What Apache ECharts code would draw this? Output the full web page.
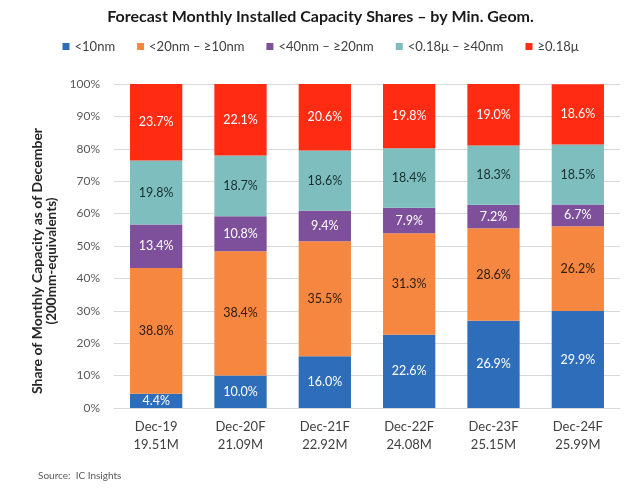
<!DOCTYPE html>
<html><head><meta charset="utf-8">
<script src="https://cdn.jsdelivr.net/npm/echarts@6/dist/echarts.min.js"></script>
<style>html,body{margin:0;padding:0;background:#fff}#c{width:641px;height:490px}</style>
</head><body><div id="c"></div>
<script>
const categories = ['Dec-19\n19.51M','Dec-20F\n21.09M','Dec-21F\n22.92M','Dec-22F\n24.08M','Dec-23F\n25.15M','Dec-24F\n25.99M'];
const seriesNames = ['<10nm','<20nm – ≥10nm','<40nm – ≥20nm','<0.18μ – ≥40nm','≥0.18μ'];
const lt10 = [4.4,10.0,16.0,22.6,26.9,29.9];
const nm10to20 = [38.8,38.4,35.5,31.3,28.6,26.2];
const nm20to40 = [13.4,10.8,9.4,7.9,7.2,6.7];
const nm40to180 = [19.8,18.7,18.6,18.4,18.3,18.5];
const ge180 = [23.7,22.1,20.6,19.8,19.0,18.6];
const yTicks = [0,10,20,30,40,50,60,70,80,90,100];

const FONT = 'Lato';
const colors = ['#2E6DB9','#F68740','#7E4F9B','#7FBEBE','#FF2B12'];
const labelColors = ['#ffffff','#2b1a0e','#ffffff','#15302f','#ffffff'];
const datas = [lt10,nm10to20,nm20to40,nm40to180,ge180];

const chart = echarts.init(document.getElementById('c'));
chart.setOption({
  animation:false,
  textStyle:{fontFamily:FONT},
  title:{text:'Forecast Monthly Installed Capacity Shares – by Min. Geom.',left:'center',top:4,
    textStyle:{fontFamily:FONT,fontSize:16,fontWeight:'bold',color:'#1a1a1a'}},
  legend:{top:35,left:'center',itemWidth:7,itemHeight:7,itemGap:22,icon:'rect',
    textStyle:{fontFamily:FONT,fontSize:13,color:'#404040'},data:seriesNames},
  grid:{left:114,right:21,top:84,bottom:82},
  xAxis:{type:'category',data:categories,
    axisLine:{lineStyle:{color:'#d9d9d9'}},axisTick:{show:false},
    axisLabel:{fontFamily:FONT,fontSize:13,color:'#404040',margin:10,lineHeight:18}},
  yAxis:{type:'value',min:0,max:100,interval:10,
    axisLine:{show:false},axisTick:{show:false},
    splitLine:{lineStyle:{color:'#d9d9d9'}},
    axisLabel:{fontFamily:FONT,fontSize:12,color:'#595959',margin:14,
      formatter:v=>yTicks.includes(v)?v+'%':''}},
  graphic:[
    {type:'text',x:37,y:261,rotation:Math.PI/2,style:{text:'Share of Monthly Capacity as of December',
      fontFamily:FONT,fontSize:14,fontWeight:'bold',fill:'#262626',align:'center',verticalAlign:'middle'}},
    {type:'text',x:52,y:261,rotation:Math.PI/2,style:{text:'(200mm-equivalents)',
      fontFamily:FONT,fontSize:13.5,fontWeight:'bold',fill:'#262626',align:'center',verticalAlign:'middle'}},
    {type:'text',left:38,top:471,style:{text:'Source:  IC Insights',fontFamily:FONT,fontSize:10,fill:'#595959'}}
  ],
  series: datas.map((d,i)=>({
    name:seriesNames[i],type:'bar',stack:'s',barWidth:'62%',data:d,
    itemStyle:{color:colors[i]},
    label:{show:true,position:'inside',formatter:p=>p.value.toFixed(1)+'%',
      fontFamily:FONT,fontSize:12.5,color:labelColors[i]}
  }))
});
</script></body></html>
